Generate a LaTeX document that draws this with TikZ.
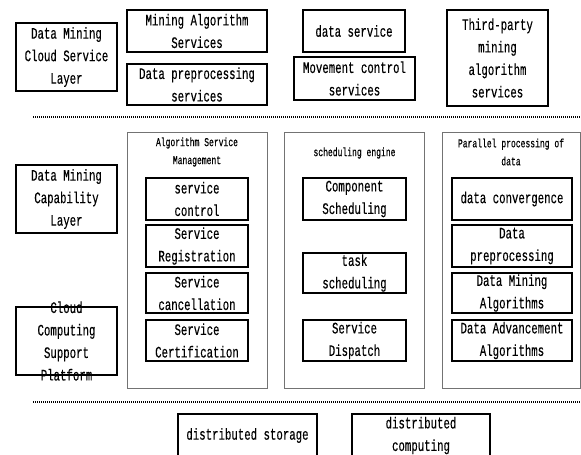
\documentclass[tikz,border=0pt]{standalone}
\usepackage{fontspec}
\setmainfont{Liberation Mono}[FakeStretch=0.67, FakeBold=0.3]
\newcommand{\boxsize}{\fontsize{16}{22.5}\selectfont}
\newcommand{\titlesize}{\fontsize{12}{18}\selectfont}
\tikzset{
    box/.style={draw, line width=1.1pt, inner sep=0pt, align=center, font=\boxsize},
    group/.style={draw=black!55, line width=0.9pt},
    grouptitle/.style={inner sep=0pt, align=center, font=\titlesize},
    sepline/.style={line width=1.2pt, dash pattern=on 1pt off 1pt}
}
\begin{document}
\begin{tikzpicture}[x=1pt, y=-1pt]
        \useasboundingbox (0, 0) rectangle (581, 455);
        
        % Cloud service layer
        \node[box, minimum width=101, minimum height=68] (cslayer) at (66.5, 57) {Data Mining\\Cloud Service\\Layer};
        \node[box, minimum width=140, minimum height=42] (minalg) at (197, 31) {Mining Algorithm\\Services};
        \node[box, minimum width=140, minimum height=41] (preserv) at (197, 84.5) {Data preprocessing\\services};
        \node[box, minimum width=102, minimum height=42] (dataserv) at (354, 31) {data service};
        \node[box, minimum width=121, minimum height=43] (movserv) at (354.5, 78.5) {Movement control\\services};
        \node[box, minimum width=101, minimum height=96] (thirdparty) at (497.5, 58) {Third-party\\mining\\algorithm\\services};
        
        \draw[sepline] (33, 117) -- (580, 117);
        
        % Capability layer
        \node[box, minimum width=101, minimum height=68] (caplayer) at (66.5, 199) {Data Mining\\Capability\\Layer};
        \node[box, minimum width=101, minimum height=68] (platform) at (66.5, 341) {};
        \node[inner sep=0pt, align=center, font=\boxsize] (platformtext) at (platform) {Cloud\\Computing\\Support\\Platform};
        
        % Algorithm service management
        \draw[group] (127, 132) rectangle (267, 388);
        \node[grouptitle] (asm) at (197, 152) {Algorithm Service\\Management};
        \node[box, minimum width=102, minimum height=42] (control) at (197, 199) {service\\control};
        \node[box, minimum width=102, minimum height=42] (registration) at (197, 246) {Service\\Registration};
        \node[box, minimum width=102, minimum height=40] (cancellation) at (197, 293) {Service\\cancellation};
        \node[box, minimum width=102, minimum height=41] (certification) at (197, 340.5) {Service\\Certification};
        
        % Scheduling engine
        \draw[group] (284, 132) rectangle (424, 388);
        \node[grouptitle] (engine) at (354.5, 153) {scheduling engine};
        \node[box, minimum width=103, minimum height=42] (compsched) at (354.5, 199) {Component\\Scheduling};
        \node[box, minimum width=103, minimum height=40] (tasksched) at (354.5, 273) {task\\scheduling};
        \node[box, minimum width=103, minimum height=41] (dispatch) at (354.5, 340.5) {Service\\Dispatch};
        
        % Parallel processing
        \draw[group] (442, 132) rectangle (580, 388);
        \node[grouptitle] (parallel) at (511, 152) {Parallel processing of\\data};
        \node[box, minimum width=120, minimum height=42] (convergence) at (512, 199) {data convergence};
        \node[box, minimum width=120, minimum height=42] (preproc) at (512, 246) {Data\\preprocessing};
        \node[box, minimum width=120, minimum height=40] (dmalg) at (512, 293) {Data Mining\\Algorithms};
        \node[box, minimum width=120, minimum height=41] (advalg) at (512, 340.5) {Data Advancement\\Algorithms};
        
        \draw[sepline] (33, 402) -- (580, 402);
        
        % Distributed layer
        \node[box, minimum width=139, minimum height=43] (storage) at (247.5, 435.5) {distributed storage};
        \node[box, minimum width=138, minimum height=43] (computing) at (421, 435.5) {distributed\\computing};
    \end{tikzpicture}
\end{document}
